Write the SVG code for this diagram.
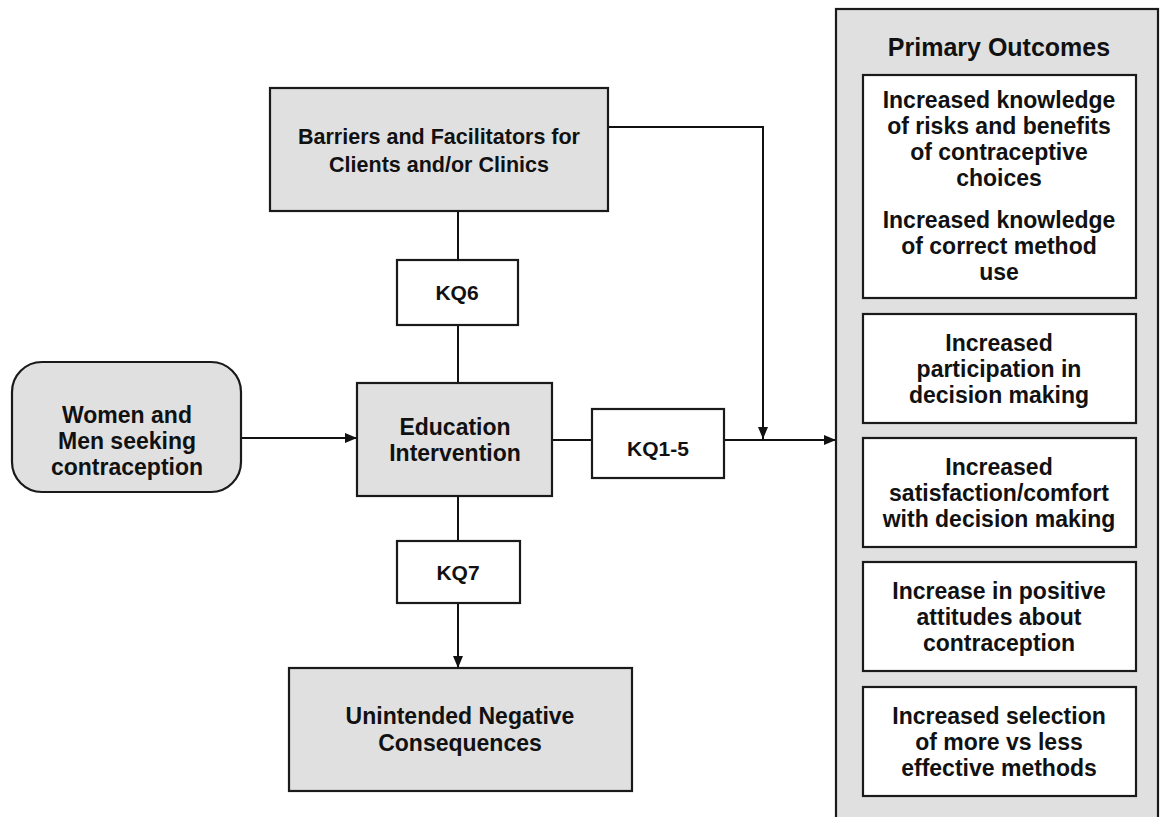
<svg xmlns="http://www.w3.org/2000/svg" width="1160" height="817" viewBox="0 0 1160 817">
<style>
.box{fill:#e0e0e0;stroke:#1a1a1a;stroke-width:2.2}
.wbox{fill:#ffffff;stroke:#1a1a1a;stroke-width:2.2}
.t{font-family:"Liberation Sans",Arial,sans-serif;font-weight:bold;font-size:21px;fill:#111;text-anchor:middle}
.o{font-size:23px}
.ln{stroke:#111;stroke-width:2;fill:none}
</style>
<defs>
<marker id="ah" viewBox="0 0 12 10" refX="12" refY="5" markerWidth="12" markerHeight="10" markerUnits="userSpaceOnUse" orient="auto">
<path d="M0,0 L12,5 L0,10 Z" fill="#111"/>
</marker>
</defs>
<rect width="1160" height="817" fill="#fff"/>

<g id="connectors">
<line class="ln" x1="241" y1="438" x2="357" y2="438" marker-end="url(#ah)"/>
<line class="ln" x1="458" y1="211" x2="458" y2="260"/>
<line class="ln" x1="458" y1="325" x2="458" y2="383"/>
<line class="ln" x1="552" y1="440" x2="592" y2="440"/>
<line class="ln" x1="724" y1="440" x2="836" y2="440" marker-end="url(#ah)"/>
<polyline class="ln" points="608,127 763,127 763,439" marker-end="url(#ah)"/>
<line class="ln" x1="458" y1="496" x2="458" y2="541"/>
<line class="ln" x1="458" y1="603" x2="458" y2="668" marker-end="url(#ah)"/>
</g>

<g id="barriers">
<rect class="box" x="270" y="88" width="338" height="123"/>
<text class="t" x="439" y="144" style="font-size:21.5px">Barriers and Facilitators for</text>
<text class="t" x="439" y="172" style="font-size:21.5px">Clients and/or Clinics</text>
</g>

<g id="kq6">
<rect class="wbox" x="397" y="260" width="121" height="65"/>
<text class="t" x="457" y="300">KQ6</text>
</g>

<g id="population">
<rect class="box" x="12" y="362" width="229" height="130" rx="30"/>
<text class="t o" x="127" y="423">Women and</text>
<text class="t o" x="127" y="449">Men seeking</text>
<text class="t o" x="127" y="475">contraception</text>
</g>

<g id="education">
<rect class="box" x="357" y="383" width="195" height="113"/>
<text class="t o" x="455" y="435">Education</text>
<text class="t o" x="455" y="461">Intervention</text>
</g>

<g id="kq15">
<rect class="wbox" x="592" y="409" width="132" height="69"/>
<text class="t" x="658" y="456">KQ1-5</text>
</g>

<g id="kq7">
<rect class="wbox" x="397" y="541" width="123" height="62"/>
<text class="t" x="458" y="580">KQ7</text>
</g>

<g id="unintended">
<rect class="box" x="289" y="668" width="343" height="123"/>
<text class="t o" x="460" y="724">Unintended Negative</text>
<text class="t o" x="460" y="751">Consequences</text>
</g>

<g id="outcomes">
<rect class="box" x="836" y="9" width="322" height="820"/>
<text class="t" x="999" y="56" style="font-size:25px">Primary Outcomes</text>
<g id="o1">
<rect class="wbox" x="863" y="75" width="273" height="223"/>
<text class="t o" x="999" y="108">Increased knowledge</text>
<text class="t o" x="999" y="134">of risks and benefits</text>
<text class="t o" x="999" y="160">of contraceptive</text>
<text class="t o" x="999" y="186">choices</text>
<text class="t o" x="999" y="228">Increased knowledge</text>
<text class="t o" x="999" y="254">of correct method</text>
<text class="t o" x="999" y="280">use</text>
</g>
<g id="o2">
<rect class="wbox" x="863" y="314" width="273" height="109"/>
<text class="t o" x="999" y="351">Increased</text>
<text class="t o" x="999" y="377">participation in</text>
<text class="t o" x="999" y="403">decision making</text>
</g>
<g id="o3">
<rect class="wbox" x="863" y="438" width="273" height="109"/>
<text class="t o" x="999" y="475">Increased</text>
<text class="t o" x="999" y="501">satisfaction/comfort</text>
<text class="t o" x="999" y="527">with decision making</text>
</g>
<g id="o4">
<rect class="wbox" x="863" y="562" width="273" height="109"/>
<text class="t o" x="999" y="599">Increase in positive</text>
<text class="t o" x="999" y="625">attitudes about</text>
<text class="t o" x="999" y="651">contraception</text>
</g>
<g id="o5">
<rect class="wbox" x="863" y="687" width="273" height="109"/>
<text class="t o" x="999" y="724">Increased selection</text>
<text class="t o" x="999" y="750">of more vs less</text>
<text class="t o" x="999" y="776">effective methods</text>
</g>
</g>
</svg>
